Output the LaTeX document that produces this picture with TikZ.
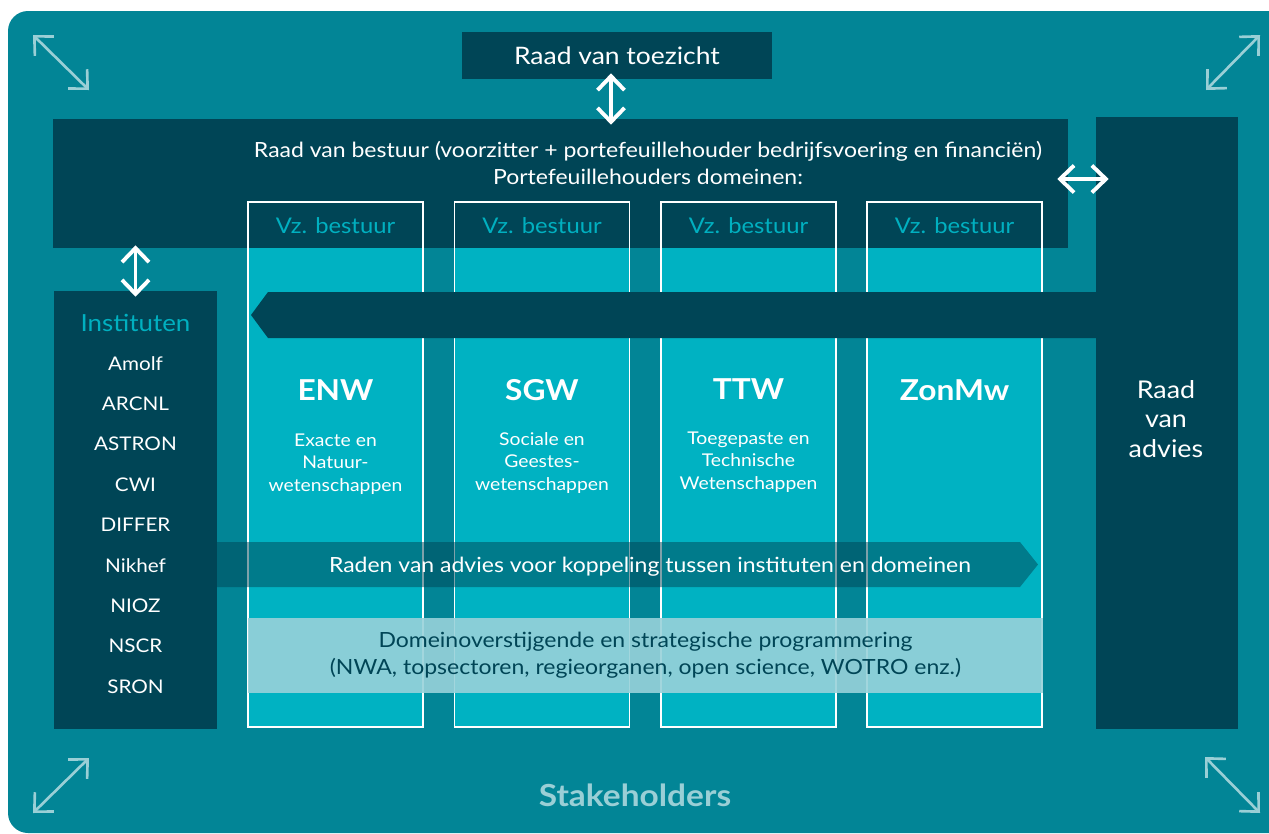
\documentclass[tikz,border=0pt]{standalone}
\usepackage{fontspec}
\setmainfont{Lato}[FakeStretch=1.1]
\usetikzlibrary{positioning,arrows.meta}
\definecolor{Teal}{RGB}{2,133,150}
\definecolor{Dark}{RGB}{0,69,86}
\definecolor{Cyan}{RGB}{0,178,194}
\definecolor{CyanText}{RGB}{0,176,192}
\definecolor{Pale}{RGB}{154,207,214}
\definecolor{Band}{RGB}{152,210,218}
\newcommand\fsz[2]{\fontsize{#1}{#2}\selectfont}
\tikzset{
  >={Straight Barb[length=0.28cm,width=0.54cm]},
  darkbox/.style={fill=Dark, text=white, inner sep=0pt, align=center},
  domaincol/.style={fill=Cyan, minimum width=3.5cm, minimum height=9.58cm, inner sep=0pt},
  colframe/.style={draw=white, line width=1pt, minimum width=3.5cm, minimum height=10.5cm, inner sep=0pt},
  vz/.style={text=CyanText, font=\fsz{12.3}{15}},
  title/.style={text=white, font=\bfseries\fsz{16.4}{20}},
  sub/.style={text=white, align=center, font=\fsz{10}{12.8}},
  inst/.style={text=white, font=\fsz{10.7}{13}, minimum height=0.808cm, inner sep=0pt, outer sep=0pt, text height=0.7em, text depth=0pt},
  dbl/.style={<->, white, line width=2.2pt},
  corner/.style={<->, Pale, line width=1.5pt},
}
\begin{document}
\begin{tikzpicture}[x=0.02cm, y=-0.02cm]
  \useasboundingbox (0,0) rectangle (1269,833);
  % background
  \fill[Teal, rounded corners=0.4cm] (1269,11) -- (8,11) -- (8,833) -- (1269,833);

  % domain columns
  \node[domaincol] (enw) at (335.5,487.5) {};
  \node[domaincol] (sgw) at (542,487.5) {};
  \node[domaincol] (ttw) at (748.5,487.5) {};
  \node[domaincol] (zonmw) at (954.5,487.5) {};

  % dark boxes
  \node[darkbox, minimum width=6.2cm, minimum height=0.94cm, font=\fsz{13.7}{17}] (toezicht) at (617,55.5) {Raad van toezicht};
  \node[darkbox, minimum width=20.3cm, minimum height=2.58cm] (bestuur) at (560.5,183.5) {};
  \node[darkbox, minimum width=2.84cm, minimum height=12.24cm] (advies) at (1167,423) {};
  \node[text=white, align=center, font=\fsz{13.9}{17}] (adviestekst) at (1166,419) {Raad\\van\\advies};
  \node[darkbox, minimum width=3.26cm, minimum height=8.76cm] (instituten) at (135.5,510) {};
  \node[text=white, align=center, font=\fsz{11.9}{15.3}] (bestuurtekst) at (648,163)
    {Raad van bestuur (voorzitter + portefeuillehouder bedrijfsvoering en financiën)\\Portefeuillehouders domeinen:};

  % white frames round the columns
  \node[colframe] (enwframe) at (335.5,464.5) {};
  \node[colframe] (sgwframe) at (542,464.5) {};
  \node[colframe] (ttwframe) at (748.5,464.5) {};
  \node[colframe] (zonmwframe) at (954.5,464.5) {};
  \node[vz] (vzenw) at (335.5,226) {Vz. bestuur};
  \node[vz] (vzsgw) at (542,226) {Vz. bestuur};
  \node[vz] (vzttw) at (748.5,226) {Vz. bestuur};
  \node[vz] (vzzonmw) at (954.5,226) {Vz. bestuur};

  % arrow from the advisory board
  \fill[Dark] (251,315) -- (268,292) -- (1100,292) -- (1100,338) -- (268,338) -- cycle;

  % domains
  \node[title] (enwtitel) at (335.5,390) {ENW};
  \node[title] (sgwtitel) at (542,390) {SGW};
  \node[title] (ttwtitel) at (748.5,389) {TTW};
  \node[title] (zonmwtitel) at (954.5,390) {ZonMw};
  \node[sub] (enwsub) at (335.5,464) {Exacte en\\Natuur-\\wetenschappen};
  \node[sub] (sgwsub) at (542,463) {Sociale en\\Geestes-\\wetenschappen};
  \node[sub] (ttwsub) at (748.5,462) {Toegepaste en\\Technische\\Wetenschappen};

  % institutes
  \node[vz, font=\fsz{13.4}{15}] (insttitel) at (135.5,323) {Instituten};
  \node[inst] (amolf) at (135.5,364) {Amolf};
  \node[inst, below=0pt of amolf] (arcnl) {ARCNL};
  \node[inst, below=0pt of arcnl] (astron) {ASTRON};
  \node[inst, below=0pt of astron] (cwi) {CWI};
  \node[inst, below=0pt of cwi] (differ) {DIFFER};
  \node[inst, below=0pt of differ] (nikhef) {Nikhef};
  \node[inst, below=0pt of nikhef] (nioz) {NIOZ};
  \node[inst, below=0pt of nioz] (nscr) {NSCR};
  \node[inst, below=0pt of nscr] (sron) {SRON};

  % bands
  \fill[Dark, opacity=0.5] (217,542) -- (1020,542) -- (1038,564.5) -- (1020,587) -- (217,587) -- cycle;
  \node[text=white, font=\fsz{11.9}{14}] (raden) at (650,567) {Raden van advies voor koppeling tussen instituten en domeinen};
  \node[fill=Band, fill opacity=0.9, text opacity=1, text=Dark, align=center, font=\fsz{11.9}{15.3},
    minimum width=15.9cm, minimum height=1.5cm, inner sep=0pt] (domein) at (645.5,655.5)
    {Domeinoverstijgende en strategische programmering\\(NWA, topsectoren, regieorganen, open science, WOTRO enz.)};

  % arrows
  \draw[dbl, shorten <=-0.12cm, shorten >=-0.12cm] ([xshift=-0.12cm]toezicht.south) -- ([xshift=-0.12cm]toezicht.south |- bestuur.north);
  \draw[dbl, shorten <=-0.22cm, shorten >=-0.26cm] ([yshift=0.09cm]bestuur.east) -- ([yshift=0.09cm]bestuur.east -| advies.west);
  \draw[dbl, shorten <=-0.06cm, shorten >=-0.12cm] (instituten.north |- bestuur.south) -- (instituten.north);

  % corners
  \coordinate (lb1) at (33,35);
  \coordinate (lb2) at (89,90);
  \coordinate (rb1) at (1206,90);
  \coordinate (rb2) at (1260,35);
  \coordinate (lo1) at (33,813);
  \coordinate (lo2) at (89,758);
  \coordinate (ro1) at (1205,757);
  \coordinate (ro2) at (1260,813);
  \draw[corner] (lb1) -- (lb2);
  \draw[corner] (rb1) -- (rb2);
  \draw[corner] (lo1) -- (lo2);
  \draw[corner] (ro1) -- (ro2);

  \node[text=Pale, font=\bfseries\fsz{17.3}{20}] (stakeholders) at (635,795) {Stakeholders};
\end{tikzpicture}
\end{document}
